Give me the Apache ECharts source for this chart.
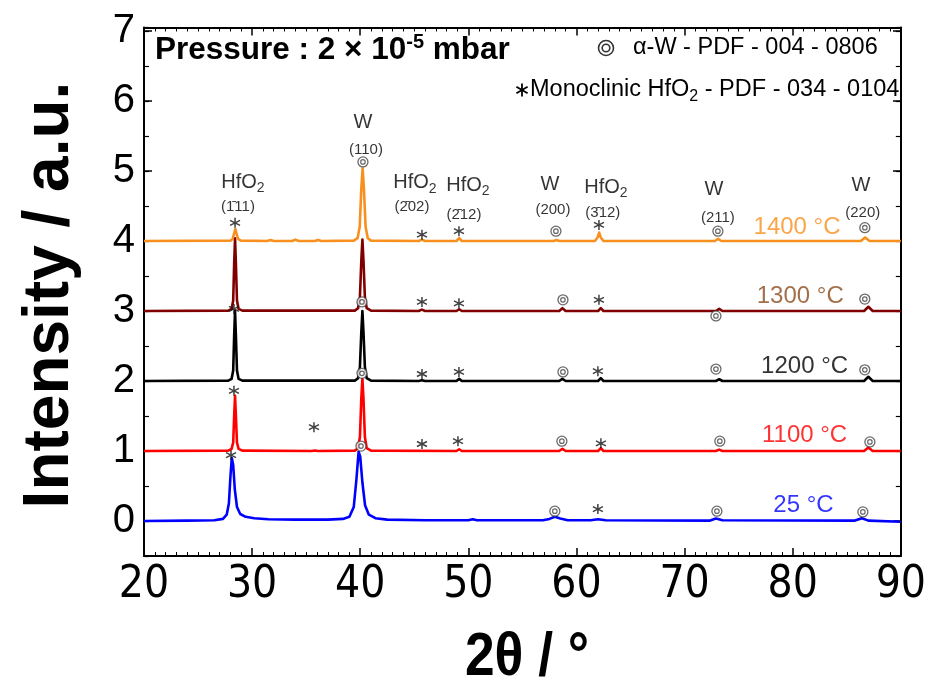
<!DOCTYPE html>
<html><head><meta charset="utf-8">
<script src="https://cdn.jsdelivr.net/npm/echarts/dist/echarts.min.js"></script>
<style>html,body{margin:0;padding:0;background:#fff}#c{width:929px;height:686px}</style>
</head><body><div id="c"></div>
<script>
// ---------- data ----------
const temperatures = ['25 °C', '1100 °C', '1200 °C', '1300 °C', '1400 °C'];
const offsets = [0, 1, 2, 3, 4];
const lineColors = ['#0000ff', '#ff0000', '#000000', '#800000', '#f7901e'];
const labelColors = ['#0000ff', '#ff0000', '#000000', '#8c4a1c', '#f7901e'];
const tempLabelPos = [[81.0, 0.22], [81.1, 1.22], [81.1, 2.21], [80.7, 3.21], [80.4, 4.20]];

const xrd25 = [[20,0],[24,0.005],[26.5,0.01],[27.3,0.03],[27.65,0.09],[27.85,0.25],[28.0,0.65],[28.12,0.9],[28.25,0.8],[28.4,0.45],[28.6,0.2],[28.9,0.1],[29.4,0.06],[30.2,0.04],[31.5,0.025],[34,0.02],[37,0.02],[38.4,0.03],[39.0,0.06],[39.4,0.2],[39.65,0.6],[39.85,0.99],[40.0,0.92],[40.2,0.55],[40.45,0.22],[40.8,0.09],[41.4,0.04],[42.5,0.02],[46,0.01],[50.0,0.01],[50.4,0.025],[50.8,0.01],[56.9,0.01],[57.5,0.03],[58.0,0.06],[58.5,0.035],[59.2,0.01],[61.3,0.01],[62.0,0.025],[62.7,0.01],[72.3,0.005],[72.9,0.035],[73.5,0.01],[85.7,0.005],[86.4,0.04],[87.0,0.005],[90,-0.01]];
const xrd1100 = [[20,0],[27.8,0.005],[28.1,0.03],[28.25,0.12],[28.34,0.5],[28.42,0.79],[28.5,0.5],[28.6,0.12],[28.75,0.03],[29.1,0.005],[35.5,0],[35.8,0.008],[36.1,0],[39.5,0.005],[39.8,0.04],[39.97,0.2],[40.1,0.75],[40.2,1.03],[40.3,0.75],[40.43,0.2],[40.6,0.04],[41.0,0.005],[48.9,0],[49.15,0.025],[49.4,0],[58.4,0],[58.7,0.03],[59.0,0],[62.0,0],[62.25,0.04],[62.5,0],[72.9,0],[73.2,0.02],[73.5,0],[86.6,0],[87.0,0.05],[87.4,0],[90,0]];
const xrd1200 = [[20,0],[27.8,0.005],[28.1,0.03],[28.25,0.15],[28.34,0.65],[28.42,1.0],[28.5,0.65],[28.6,0.15],[28.75,0.03],[29.1,0.005],[39.5,0.005],[39.8,0.04],[39.97,0.2],[40.1,0.7],[40.2,1.0],[40.3,0.7],[40.43,0.2],[40.6,0.04],[41.0,0.005],[45.4,0],[45.7,0.01],[46.0,0],[48.9,0],[49.15,0.03],[49.4,0],[58.4,0],[58.7,0.03],[59.0,0],[62.0,0],[62.25,0.04],[62.5,0],[72.9,0],[73.2,0.025],[73.5,0],[86.6,0],[87.0,0.06],[87.4,0],[90,0]];
const xrd1300 = [[20,0],[27.8,0.005],[28.1,0.03],[28.25,0.15],[28.34,0.68],[28.42,1.04],[28.5,0.68],[28.6,0.15],[28.75,0.03],[29.1,0.005],[39.5,0.005],[39.8,0.04],[39.97,0.2],[40.1,0.72],[40.2,1.02],[40.3,0.72],[40.43,0.2],[40.6,0.04],[41.0,0.005],[45.4,0],[45.7,0.02],[46.0,0],[48.9,0],[49.15,0.025],[49.4,0],[58.4,0],[58.7,0.04],[59.0,0],[62.0,0],[62.25,0.04],[62.5,0],[72.9,0],[73.2,0.03],[73.5,0],[86.6,0],[87.0,0.06],[87.4,0],[90,0]];
const xrd1400 = [[20,0],[28.0,0.005],[28.2,0.03],[28.32,0.1],[28.45,0.17],[28.57,0.1],[28.7,0.03],[28.95,0.005],[31.4,0],[31.7,0.015],[32.0,0],[33.7,0],[34.0,0.02],[34.3,0],[35.8,0],[36.1,0.015],[36.4,0],[39.4,0.005],[39.75,0.04],[39.95,0.2],[40.1,0.75],[40.22,1.04],[40.34,0.75],[40.5,0.2],[40.7,0.04],[41.0,0.005],[45.4,0],[45.7,0.02],[46.0,0],[48.9,0],[49.15,0.04],[49.4,0],[57.9,0],[58.15,0.015],[58.4,0],[61.7,0],[61.95,0.05],[62.1,0.12],[62.25,0.05],[62.5,0],[72.8,0],[73.1,0.03],[73.4,0],[86.3,0],[86.7,0.05],[87.1,0],[90,0]];
const patterns = [xrd25, xrd1100, xrd1200, xrd1300, xrd1400];

// annotation symbols (◎ = α-W, * = monoclinic HfO2)
const wMarks = [[40.25,5.13],[58.10,4.14],[73.08,4.14],[86.67,4.19],[40.16,3.13],[58.75,3.16],[72.9,2.93],[86.67,3.17],[40.16,2.11],[58.75,2.13],[72.9,2.17],[86.67,2.16],[40.07,1.07],[58.65,1.14],[73.26,1.14],[87.14,1.13],[58.0,0.14],[72.99,0.14],[86.49,0.13]];
const hfo2Marks = [[28.42,4.26],[45.71,4.09],[49.13,4.14],[62.08,4.23],[45.71,3.13],[49.13,3.11],[62.08,3.16],[28.32,3.03],[45.71,2.10],[49.13,2.13],[61.98,2.14],[28.32,1.86],[35.72,1.34],[45.71,1.10],[49.04,1.14],[62.26,1.11],[28.05,0.94],[61.98,0.17]];

const phaseLabels = [[29.15,4.84,'HfO2'],[40.25,5.70,'W'],[45.06,4.83,'HfO2'],[49.96,4.80,'HfO2'],[57.54,4.81,'W'],[62.72,4.77,'HfO2'],[72.71,4.73,'W'],[86.30,4.80,'W']];
const hklLabels = [[28.69,4.49,'(1\u030411)'],[40.53,5.30,'(110)'],[44.78,4.49,'(2\u030402)'],[49.59,4.37,'(2\u030412)'],[57.82,4.44,'(200)'],[62.44,4.40,'(3\u030412)'],[73.08,4.33,'(211)'],[86.48,4.40,'(220)']];

const xTicks = [20, 30, 40, 50, 60, 70, 80, 90];
const yTicks = [0, 1, 2, 3, 4, 5, 6, 7];

// ---------- chart ----------
const FONT = "'Liberation Sans', Arial, Helvetica, sans-serif";
const NARROW = "'Liberation Sans Narrow', 'DejaVu Sans Condensed', 'Liberation Sans', sans-serif";
const chart = echarts.init(document.getElementById('c'), null, {renderer: 'canvas'});

const G = {left: 144, right: 28, top: 27.5, bottom: 130};
const series = [];
patterns.forEach((p, i) => {
  series.push({
    type: 'line', name: temperatures[i], xAxisIndex: 0, yAxisIndex: 0,
    data: p.map(d => [d[0], d[1] + offsets[i]]),
    showSymbol: false, symbol: 'none', smooth: false,
    lineStyle: {color: lineColors[i], width: 2.6, join: 'round'},
    z: 2 + i, animation: false
  });
});
const STAR = 'path://M0,-5L0,5M-4.33,-2.5L4.33,2.5M-4.33,2.5L4.33,-2.5';
series.push({type: 'scatter', xAxisIndex: 0, yAxisIndex: 0, data: hfo2Marks, symbol: STAR, symbolSize: 10,
  itemStyle: {color: 'none', borderColor: '#111', borderWidth: 1.5}, z: 20, silent: true});
series.push({type: 'scatter', xAxisIndex: 0, yAxisIndex: 0, data: wMarks, symbol: 'circle', symbolSize: 10,
  itemStyle: {color: '#fff', borderColor: '#444', borderWidth: 1.3}, z: 20, silent: true});
series.push({type: 'scatter', xAxisIndex: 0, yAxisIndex: 0, data: wMarks, symbol: 'circle', symbolSize: 4.5,
  itemStyle: {color: 'none', borderColor: '#444', borderWidth: 1.2}, z: 21, silent: true});

const subRich = {
  n: {fontSize: 20, fontFamily: FONT, color: '#000', lineHeight: 26},
  s: {fontSize: 14, fontFamily: FONT, color: '#000', lineHeight: 14, verticalAlign: 'bottom'}
};
series.push({type: 'scatter', xAxisIndex: 0, yAxisIndex: 0, data: phaseLabels, symbolSize: 1,
  itemStyle: {color: 'transparent'}, z: 22, silent: true,
  label: {show: true, position: 'inside', formatter: p => p.data[2] === 'HfO2' ? '{n|HfO}{s|2}' : '{n|W}', rich: subRich}});
series.push({type: 'scatter', xAxisIndex: 0, yAxisIndex: 0, data: hklLabels, symbolSize: 1,
  itemStyle: {color: 'transparent'}, z: 22, silent: true,
  label: {show: true, position: 'inside', formatter: p => p.data[2], fontSize: 15, fontFamily: FONT, color: '#000'}});
series.push({type: 'scatter', xAxisIndex: 0, yAxisIndex: 0,
  data: tempLabelPos.map((d, i) => ({value: d, label: {color: labelColors[i]}, name: temperatures[i]})),
  symbolSize: 1, itemStyle: {color: 'transparent'}, z: 22, silent: true,
  label: {show: true, position: 'inside', formatter: p => p.name, fontSize: 24, fontFamily: FONT}});

const axisLine = {show: true, onZero: false, lineStyle: {color: '#000', width: 2}};
const xTick = {show: true, inside: true, length: 8, lineStyle: {color: '#000', width: 1.5}};
const xMinor = {show: true, splitNumber: 10, length: 4, lineStyle: {color: '#000', width: 1}};
const option = {
  animation: false,
  backgroundColor: '#fff',
  grid: [
    {left: G.left, right: G.right, top: G.top, bottom: G.bottom, containLabel: false},
    {left: G.left, right: G.right, top: G.top + 3.5, bottom: G.bottom + 35, containLabel: false}
  ],
  xAxis: [
    {type: 'value', gridIndex: 0, position: 'bottom', min: xTicks[0], max: xTicks[xTicks.length - 1], interval: 10,
      axisLine, axisTick: xTick, minorTick: xMinor,
      splitLine: {show: false}, minorSplitLine: {show: false},
      axisLabel: {fontSize: 44, fontFamily: NARROW, color: '#000', margin: 8}},
    {type: 'value', gridIndex: 0, position: 'top', min: xTicks[0], max: xTicks[xTicks.length - 1], interval: 10,
      axisLine, axisTick: xTick, minorTick: xMinor,
      splitLine: {show: false}, axisLabel: {show: false}},
    {type: 'value', gridIndex: 1, min: 20, max: 90, show: false}
  ],
  yAxis: [
    {type: 'value', gridIndex: 0, position: 'left', min: -0.5, max: 7.05, interval: 0.5,
      axisLine, axisTick: {show: true, inside: true, length: 5, lineStyle: {color: '#000', width: 1.2}},
      splitLine: {show: false}, axisLabel: {show: false}},
    {type: 'value', gridIndex: 0, position: 'right', min: -0.5, max: 7.05, interval: 0.5,
      axisLine, axisTick: {show: true, inside: true, length: 5, lineStyle: {color: '#000', width: 1.2}},
      splitLine: {show: false}, axisLabel: {show: false}},
    {type: 'value', gridIndex: 1, position: 'left', min: yTicks[0], max: yTicks[yTicks.length - 1], interval: 1,
      axisLine: {show: false, onZero: false}, axisTick: {show: true, inside: true, length: 8, lineStyle: {color: '#000', width: 1.5}},
      splitLine: {show: false},
      axisLabel: {fontSize: 40, fontFamily: FONT, color: '#000', margin: 9}},
    {type: 'value', gridIndex: 1, position: 'right', min: yTicks[0], max: yTicks[yTicks.length - 1], interval: 1,
      axisLine: {show: false, onZero: false}, axisTick: {show: true, inside: true, length: 8, lineStyle: {color: '#000', width: 1.5}},
      splitLine: {show: false}, axisLabel: {show: false}}
  ],
  series,
  graphic: [
    {type: 'text', z: 100, silent: true,
      x: 50, y: 295, rotation: Math.PI / 2,
      style: {text: 'Intensity / a.u.', fontSize: 64, fontWeight: 'bold', fontFamily: FONT, fill: '#000', textAlign: 'center', textVerticalAlign: 'middle'}},
    {type: 'text', x: 527, y: 658, z: 100, silent: true, scaleX: 0.86,
      style: {text: '2θ / °', fontSize: 62, fontWeight: 'bold', fontFamily: FONT, fill: '#000', textAlign: 'center', textVerticalAlign: 'middle'}},
    {type: 'text', x: 155, y: 50, z: 100, silent: true,
      style: {text: '{b|Pressure : 2 × 10}{p|-5}{b| mbar}', textAlign: 'left', textVerticalAlign: 'middle',
        rich: {b: {fontSize: 31.5, fontWeight: 'bold', fontFamily: FONT, fill: '#000', lineHeight: 36},
               p: {fontSize: 20, fontWeight: 'bold', fontFamily: FONT, fill: '#000', lineHeight: 22, verticalAlign: 'top'}}}},
    {type: 'circle', shape: {cx: 606, cy: 48, r: 7.5}, style: {fill: '#fff', stroke: '#333', lineWidth: 1.6}, z: 100, silent: true},
    {type: 'circle', shape: {cx: 606, cy: 48, r: 3.8}, style: {fill: 'none', stroke: '#333', lineWidth: 1.6}, z: 100, silent: true},
    {type: 'text', x: 633, y: 48, z: 100, silent: true,
      style: {text: 'α-W - PDF - 004 - 0806', fontSize: 23.5, fontFamily: FONT, fill: '#000', textAlign: 'left', textVerticalAlign: 'middle'}},
    {type: 'line', shape: {x1: 522, y1: 83.5, x2: 522, y2: 96.5}, style: {stroke: '#000', lineWidth: 1.8}, z: 100, silent: true},
    {type: 'line', shape: {x1: 516.4, y1: 86.75, x2: 527.6, y2: 93.25}, style: {stroke: '#000', lineWidth: 1.8}, z: 100, silent: true},
    {type: 'line', shape: {x1: 516.4, y1: 93.25, x2: 527.6, y2: 86.75}, style: {stroke: '#000', lineWidth: 1.8}, z: 100, silent: true},
    {type: 'text', x: 530, y: 90, z: 100, silent: true,
      style: {text: '{n|Monoclinic HfO}{s|2}{n| - PDF - 034 - 0104}', textAlign: 'left', textVerticalAlign: 'middle',
        rich: {n: {fontSize: 23.5, fontFamily: FONT, fill: '#000', lineHeight: 30},
               s: {fontSize: 16, fontFamily: FONT, fill: '#000', lineHeight: 16, verticalAlign: 'bottom'}}}}
  ]
};
chart.setOption(option);
</script></body></html>
